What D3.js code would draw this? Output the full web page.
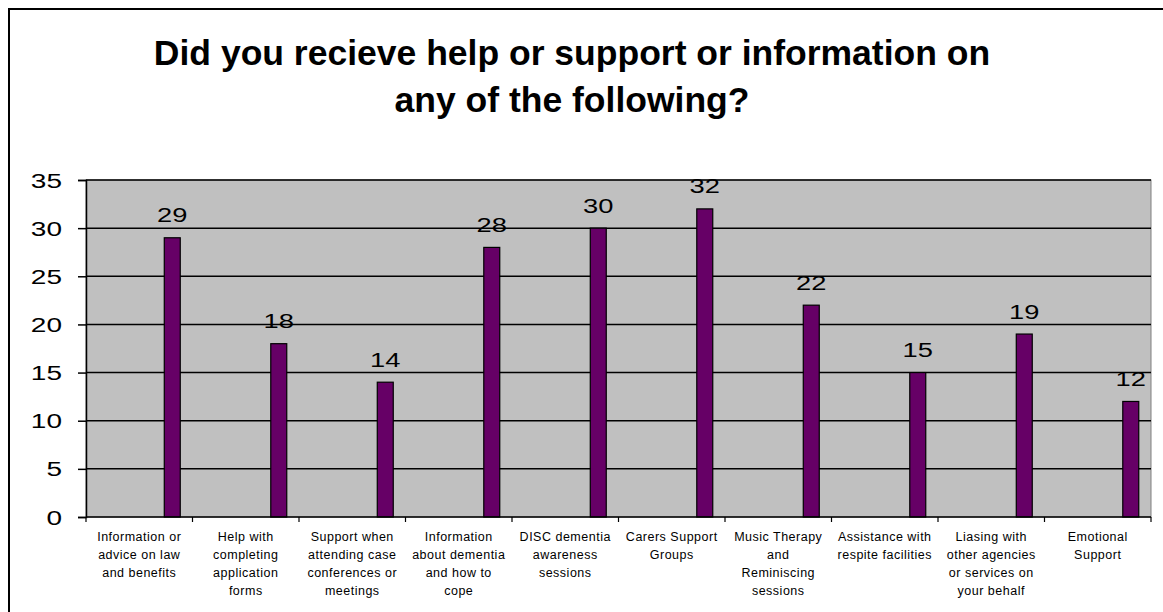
<!DOCTYPE html>
<html>
<head>
<meta charset="utf-8">
<script src="https://cdn.jsdelivr.net/npm/d3@7"></script>
<style>
  html, body { margin: 0; padding: 0; background: #fff; }
  svg { display: block; }
  text { font-family: Arial, "Liberation Sans", sans-serif; }
</style>
</head>
<body>
<svg id="chart" width="1163" height="612"></svg>
<script>
// Survey responses: number of carers who received each kind of help
const categories = [
  ["Information or", "advice on law", "and benefits"],
  ["Help with", "completing", "application", "forms"],
  ["Support when", "attending case", "conferences or", "meetings"],
  ["Information", "about dementia", "and how to", "cope"],
  ["DISC dementia", "awareness", "sessions"],
  ["Carers Support", "Groups"],
  ["Music Therapy", "and", "Reminiscing", "sessions"],
  ["Assistance with", "respite facilities"],
  ["Liasing with", "other agencies", "or services on", "your behalf"],
  ["Emotional", "Support"]
];
const values = [29, 18, 14, 28, 30, 32, 22, 15, 19, 12];
const yTicks = [0, 5, 10, 15, 20, 25, 30, 35];
const titleLines = ["Did you recieve help or support or information on", "any of the following?"];

const svg = d3.select("#chart");

// Outer chart frame
svg.append("rect")
  .attr("x", 9).attr("y", 9)
  .attr("width", 1300).attr("height", 800)
  .attr("fill", "none").attr("stroke", "#000").attr("stroke-width", 2);

// Title
svg.append("g").selectAll("text")
  .data(titleLines)
  .join("text")
  .attr("x", 572)
  .attr("y", (d, i) => 65 + i * 47)
  .attr("text-anchor", "middle")
  .attr("font-weight", "bold")
  .attr("font-size", "35.5px")
  .attr("fill", "#000")
  .text(d => d);

const plot = { left: 86, right: 1151, top: 180, bottom: 517 };

const x = d3.scaleBand()
  .domain(d3.range(categories.length))
  .range([plot.left, plot.right])
  .paddingInner(0).paddingOuter(0);

const y = d3.scaleLinear()
  .domain([0, 35])
  .range([plot.bottom, plot.top]);

// Plot area background
svg.append("rect")
  .attr("x", plot.left).attr("y", plot.top)
  .attr("width", plot.right - plot.left).attr("height", plot.bottom - plot.top)
  .attr("fill", "#C0C0C0")
  .attr("stroke", "#808080").attr("stroke-width", 1);

// Horizontal gridlines
svg.append("g").selectAll("line")
  .data(yTicks.filter(d => d > 0))
  .join("line")
  .attr("x1", plot.left).attr("x2", plot.right)
  .attr("y1", d => y(d)).attr("y2", d => y(d))
  .attr("stroke", "#000").attr("stroke-width", 1.5);

// Bars sit toward the right of each category slot
const bw = x.bandwidth();
svg.append("g").selectAll("rect")
  .data(values)
  .join("rect")
  .attr("x", (d, i) => x(i) + bw * 0.735)
  .attr("y", d => y(d))
  .attr("width", bw * 0.15)
  .attr("height", d => y(0) - y(d))
  .attr("fill", "#660066")
  .attr("stroke", "#000").attr("stroke-width", 1.2);

// Value labels above bars
svg.append("g").selectAll("text")
  .data(values)
  .join("text")
  .attr("transform", (d, i) => `translate(${x(i) + bw * 0.81},${y(d) - 15.5}) scale(1.3,1)`)
  .attr("text-anchor", "middle")
  .attr("font-size", "21px")
  .attr("fill", "#000")
  .text(d => d);

// Y axis
const yAxis = d3.axisLeft(y).tickValues(yTicks).tickSize(8).tickFormat(d3.format("d"));
const gy = svg.append("g")
  .attr("transform", `translate(${plot.left},0)`)
  .call(yAxis);
gy.select(".domain").attr("stroke", "#000").attr("stroke-width", 1.5);
gy.selectAll(".tick line").attr("stroke", "#000").attr("stroke-width", 1.5);
gy.selectAll(".tick text")
  .attr("x", null).attr("dy", null)
  .attr("transform", "translate(-24,7) scale(1.4,1)")
  .attr("text-anchor", "end")
  .attr("font-size", "20px")
  .attr("font-family", 'Arial, "Liberation Sans", sans-serif')
  .attr("fill", "#000");

// X axis: ticks at slot boundaries
const gx = svg.append("g").attr("transform", `translate(0,${plot.bottom})`);
gx.append("line")
  .attr("x1", plot.left).attr("x2", plot.right)
  .attr("stroke", "#000").attr("stroke-width", 1.5);
gx.selectAll("line.tick")
  .data(d3.range(categories.length + 1))
  .join("line")
  .attr("class", "tick")
  .attr("x1", i => i < categories.length ? x(i) : plot.right)
  .attr("x2", i => i < categories.length ? x(i) : plot.right)
  .attr("y1", 0).attr("y2", 5)
  .attr("stroke", "#000").attr("stroke-width", 1.2);

// Category labels
const catG = svg.append("g").selectAll("text")
  .data(categories)
  .join("text")
  .attr("x", (d, i) => x(i) + bw / 2)
  .attr("y", 541)
  .attr("text-anchor", "middle")
  .attr("font-size", "12.5px")
  .attr("letter-spacing", "0.5px")
  .attr("fill", "#000");
catG.selectAll("tspan")
  .data(d => d)
  .join("tspan")
  .attr("x", function () { return this.parentNode.getAttribute("x"); })
  .attr("dy", (d, i) => i === 0 ? 0 : 18)
  .text(d => d);
</script>
</body>
</html>
